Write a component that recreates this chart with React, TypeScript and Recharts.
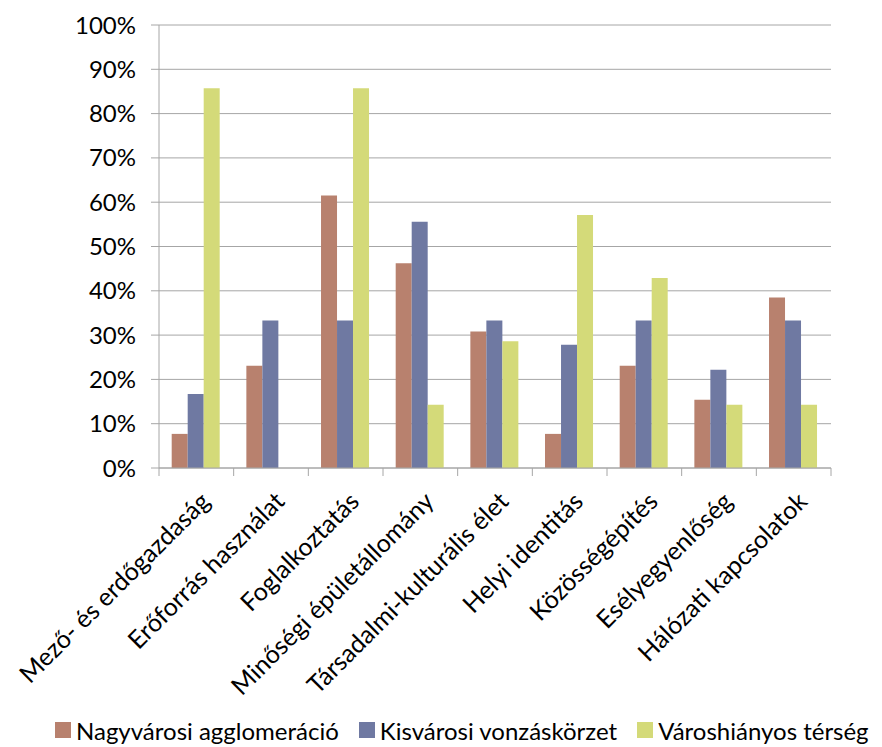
import React from "react";
import { BarChart, Bar, XAxis, YAxis, CartesianGrid, Legend } from "recharts";

const categories = [
  "Mező- és erdőgazdaság",
  "Erőforrás használat",
  "Foglalkoztatás",
  "Minőségi épületállomány",
  "Társadalmi-kulturális élet",
  "Helyi identitás",
  "Közösségépítés",
  "Esélyegyenlőség",
  "Hálózati kapcsolatok",
];

const seriesNames = ["Nagyvárosi agglomeráció", "Kisvárosi vonzáskörzet", "Városhiányos térség"];
const nagyvarosi = [7.7, 23.1, 61.5, 46.2, 30.8, 7.7, 23.1, 15.4, 38.5];
const kisvarosi = [16.7, 33.3, 33.3, 55.6, 33.3, 27.8, 33.3, 22.2, 33.3];
const varoshianyos = [85.7, 0, 85.7, 14.3, 28.6, 57.1, 42.9, 14.3, 14.3];
const yTicks = [0, 10, 20, 30, 40, 50, 60, 70, 80, 90, 100];

const colors = ["#B8816E", "#6F79A2", "#D4DA79"];
const axisColor = "#A6A6A6";
const FONT = "Lato, 'DejaVu Sans', sans-serif";

const data = categories.map((name, i) => ({
  name,
  s0: nagyvarosi[i],
  s1: kisvarosi[i],
  s2: varoshianyos[i],
}));

const CategoryTick = (props: any) => {
  const { x, y, payload, index, width } = props;
  const half = payload && payload.offset ? payload.offset : width / categories.length / 2;
  return (
    <g>
      <line x1={x - half} x2={x - half} y1={y} y2={y + 8} stroke={axisColor} strokeWidth={1} />
      {index === categories.length - 1 && (
        <line x1={x + half} x2={x + half} y1={y} y2={y + 8} stroke={axisColor} strokeWidth={1} />
      )}
      <text
        transform={`translate(${x + 15},${y + 35}) rotate(-45)`}
        textAnchor="end"
        fontSize={25}
        fontFamily={FONT}
        fill="#000"
      >
        {payload.value}
      </text>
    </g>
  );
};

const LegendContent = () => (
  <div
    style={{
      display: "flex",
      alignItems: "center",
      height: 40,
      paddingTop: 6,
      paddingLeft: 55,
      boxSizing: "border-box",
      fontFamily: FONT,
      fontSize: 24,
      color: "#000",
      whiteSpace: "nowrap",
    }}
  >
    {seriesNames.map((n, i) => (
      <div key={n} style={{ display: "flex", alignItems: "center", marginRight: 20 }}>
        <span style={{ display: "inline-block", width: 16, height: 16, background: colors[i], marginRight: 5 }} />
        <span>{n}</span>
      </div>
    ))}
  </div>
);

export default function App() {
  return (
    <div style={{ position: "absolute", left: 0, top: 0, width: 882, height: 747, background: "#fff" }}>
      <BarChart
        width={882}
        height={747}
        data={data}
        margin={{ top: 25, right: 51, bottom: 0, left: 0 }}
        barCategoryGap="17%"
        barGap={0}
      >
        <CartesianGrid vertical={false} stroke={axisColor} strokeWidth={1} />
        <XAxis
          dataKey="name"
          interval={0}
          tickLine={false}
          tickSize={0}
          tickMargin={0}
          axisLine={{ stroke: axisColor }}
          height={239}
          tick={<CategoryTick />}
        />
        <YAxis
          width={159}
          domain={[0, 100]}
          ticks={yTicks}
          interval={0}
          tickFormatter={(v: number) => `${v}%`}
          tickSize={8}
          tickMargin={15}
          axisLine={{ stroke: axisColor }}
          tickLine={{ stroke: axisColor }}
          tick={{ fontSize: 24, fontFamily: FONT, fill: "#000" }}
        />
        <Legend verticalAlign="bottom" content={<LegendContent />} />
        <Bar dataKey="s0" name={seriesNames[0]} fill={colors[0]} isAnimationActive={false} />
        <Bar dataKey="s1" name={seriesNames[1]} fill={colors[1]} isAnimationActive={false} />
        <Bar dataKey="s2" name={seriesNames[2]} fill={colors[2]} isAnimationActive={false} />
      </BarChart>
    </div>
  );
}
